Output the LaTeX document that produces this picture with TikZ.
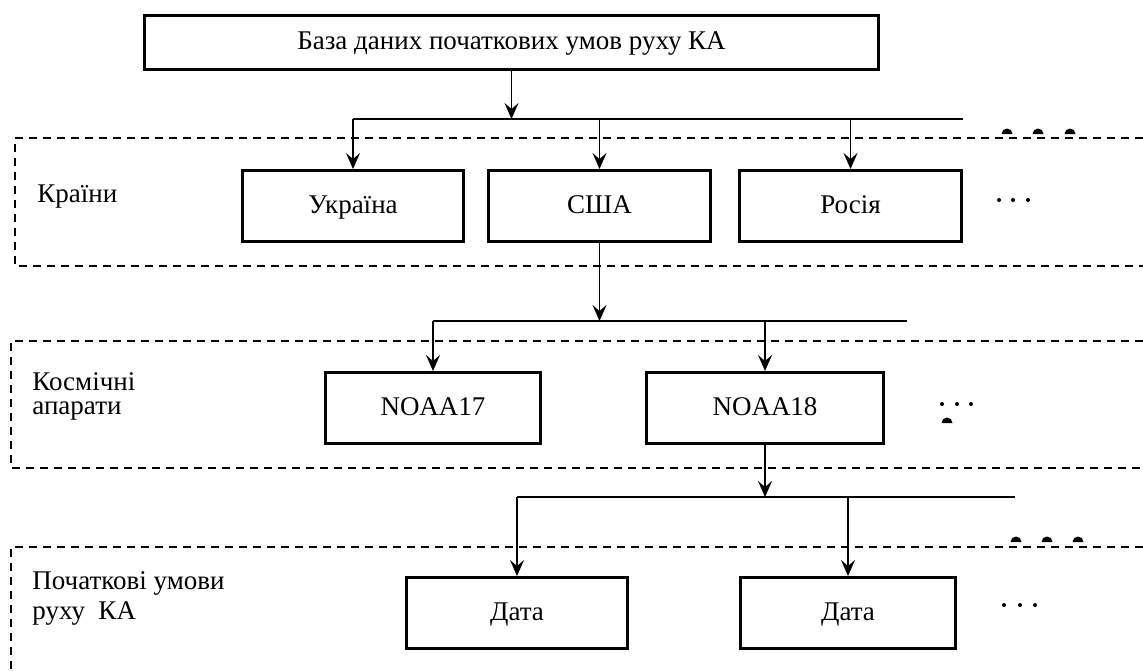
\documentclass[tikz,border=0pt]{standalone}
\usepackage{fontspec}
\setmainfont{Liberation Serif}
\usetikzlibrary{arrows.meta}

\begin{document}
\begin{tikzpicture}[x=0.5pt, y=-0.5pt,
        blk/.style={draw, line width=1.5pt, inner sep=0pt, minimum height=35.5pt, text height=9pt, text depth=2pt, font=\fontsize{13.5}{16}\selectfont},
        lbl/.style={anchor=west, align=left, inner sep=0pt, font=\fontsize{13.5}{16}\selectfont},
        arr/.style={line width=0.85pt, -{Stealth[length=8pt, width=7pt, inset=3pt]}},
        bus/.style={line width=0.85pt},
        layer/.style={line width=1pt, dash pattern=on 4pt off 3pt}]
        \useasboundingbox (0,0) rectangle (1143,670);

        % database
        \node[blk, minimum width=367pt, minimum height=27pt] (db) at (511.5,42.5) {База даних початкових умов руху КА};

        % countries
        \draw[layer] (1143,138) -| (15,266) -- (1143,266);
        \node[lbl] (lcountry) at (37,197) {Країни};
        \node[blk, minimum width=110.5pt] (ua) at (353,206) {Україна};
        \node[blk, minimum width=111pt] (usa) at (599.5,206) {США};
        \node[blk, minimum width=111pt] (ru) at (850.5,206) {Росія};
        \coordinate (busa) at (353,119);
        \coordinate (busb) at (963,119);
        \draw[bus] (busa) -- (busb);
        \draw[arr] (db.south) -- (db.south |- busa);
        \draw[arr] (busa) -- (ua.north);
        \draw[arr] (usa.north |- busa) -- (usa.north);
        \draw[arr] (ru.north |- busa) -- (ru.north);
        \foreach \x in {1007,1038,1070} \fill (\x,134) ++(-5.5,0) arc (180:360:5.5) -- cycle;
        \foreach \x in {999,1013,1028} \fill (\x,200) circle (2);

        % satellites
        \draw[layer] (1143,341) -| (11,468) -- (1143,468);
        \node[lbl] (lsat) at (32,396.5) {Космічні\\[-4pt]апарати};
        \node[blk, minimum width=107.5pt] (noaaa) at (433,408) {NOAA17};
        \node[blk, minimum width=118.5pt] (noaab) at (765,408) {NOAA18};
        \coordinate (busc) at (433,321);
        \coordinate (busd) at (907,321);
        \draw[bus] (busc) -- (busd);
        \draw[arr] (usa.south) -- (usa.south |- busc);
        \draw[arr] (busc) -- (noaaa.north);
        \draw[arr] (noaab.north |- busc) -- (noaab.north);
        \fill (947,423) ++(-5.5,0) arc (180:360:5.5) -- cycle;
        \foreach \x in {942,957,971} \fill (\x,404) circle (2);

        % initial conditions
        \draw[layer] (1143,547) -| (11,670);
        \node[lbl] (linit) at (32,598) {Початкові умови\\[-1pt]руху\ \ КА};
        \node[blk, minimum width=110.5pt] (datea) at (517,613) {Дата};
        \node[blk, minimum width=107.5pt] (dateb) at (848,613) {Дата};
        \coordinate (buse) at (517,497);
        \coordinate (busf) at (1015,497);
        \draw[bus] (buse) -- (busf);
        \draw[arr] (noaab.south) -- (noaab.south |- buse);
        \draw[arr] (buse) -- (datea.north);
        \draw[arr] (dateb.north |- buse) -- (dateb.north);
        \foreach \x in {1016,1047,1078} \fill (\x,542) ++(-5.5,0) arc (180:360:5.5) -- cycle;
        \foreach \x in {1004,1020,1035} \fill (\x,605) circle (2);
\end{tikzpicture}
\end{document}
